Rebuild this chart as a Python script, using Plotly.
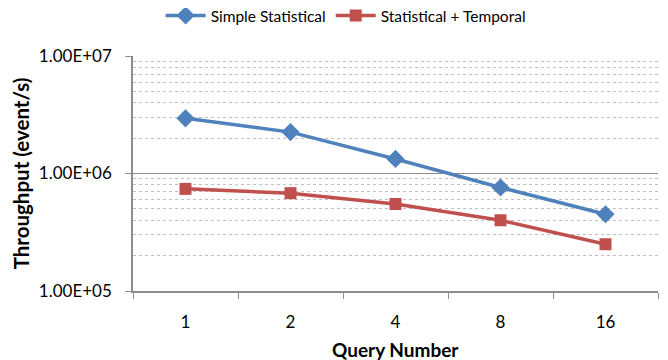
import plotly.graph_objects as go

categories = ["1", "2", "4", "8", "16"]
simple_statistical = [2.95e6, 2.25e6, 1.33e6, 7.6e5, 4.5e5]
statistical_temporal = [7.4e5, 6.8e5, 5.5e5, 4.0e5, 2.5e5]
y_tick_vals = [1e5, 1e6, 1e7]
y_tick_text = ["1.00E+05", "1.00E+06", "1.00E+07"]
x_title = "Query Number"
y_title = "Throughput (event/s)"

FONT = "Lato"

fig = go.Figure()
fig.add_trace(go.Scatter(
    x=categories, y=simple_statistical, name="Simple Statistical",
    mode="lines+markers",
    line=dict(color="#4F81BD", width=3.5),
    marker=dict(symbol="diamond", size=14, color="#4F81BD"),
))
fig.add_trace(go.Scatter(
    x=categories, y=statistical_temporal, name="Statistical + Temporal",
    mode="lines+markers",
    line=dict(color="#C0504D", width=3.5),
    marker=dict(symbol="square", size=12, color="#C0504D"),
))

fig.add_annotation(
    text="<b>" + x_title + "</b>", xref="paper", yref="paper",
    x=0.5, y=-0.25, xanchor="center", yanchor="middle",
    showarrow=False, font=dict(size=19, family=FONT, color="black"),
)

fig.update_layout(
    width=668, height=360,
    margin=dict(l=125, r=18, t=48, b=77, autoexpand=False),
    paper_bgcolor="white", plot_bgcolor="white",
    font=dict(family=FONT, size=16, color="black"),
    showlegend=True,
    legend=dict(orientation="h", x=0.405, xanchor="center", y=0.978, yanchor="middle",
                yref="container", font=dict(size=15.5), itemwidth=40,
                tracegroupgap=0),
    xaxis=dict(
        type="category", showline=True, linecolor="#8C8C8C", linewidth=1.5,
        ticks="outside", tickson="boundaries", ticklen=6, tickcolor="#8C8C8C",
        showgrid=False, range=[-0.5, 4.5], automargin=False,
        ticklabelstandoff=15,
        tickfont=dict(size=17),
    ),
    yaxis=dict(
        type="log", range=[5, 7], showline=True, linecolor="#8C8C8C", linewidth=1.5,
        tickvals=y_tick_vals, ticktext=y_tick_text, automargin=False,
        ticks="outside", ticklen=6, tickcolor="#8C8C8C",
        ticklabelstandoff=10,
        showgrid=True, gridcolor="#8C8C8C", gridwidth=1.2,
        tickfont=dict(size=17),
        title=dict(text="<b>" + y_title + "</b>", font=dict(size=20.5), standoff=4),
        minor=dict(dtick="D1", showgrid=True, gridcolor="#BFBFBF", griddash="dot",
                   gridwidth=1, ticks=""),
    ),
)

fig.write_html("out.html")
